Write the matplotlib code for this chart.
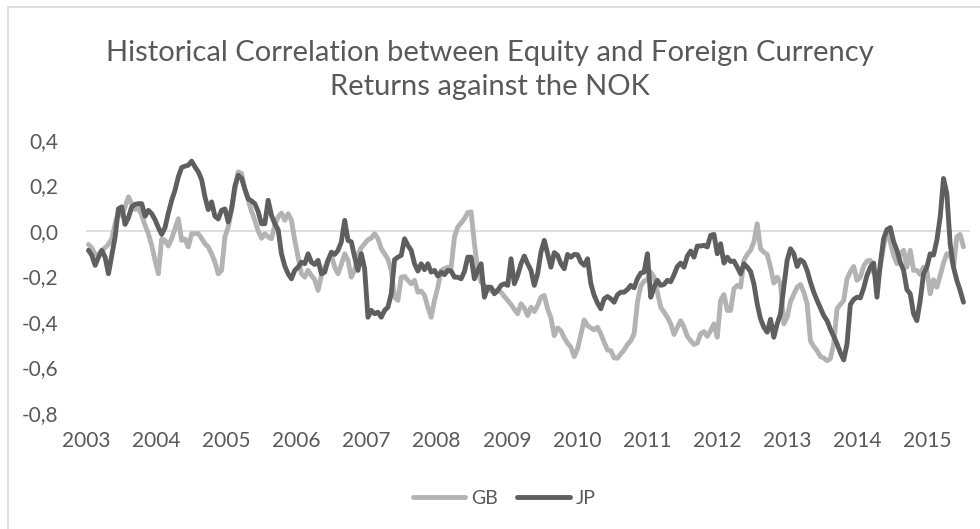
import numpy as np
import pandas as pd
import matplotlib
matplotlib.use("Agg")
import matplotlib.pyplot as plt
import matplotlib.dates as mdates
from matplotlib.patches import Rectangle
from matplotlib.ticker import FuncFormatter

# ---------------- data ----------------
title = "Historical Correlation between Equity and Foreign Currency\nReturns against the NOK"
series_names = ["GB", "JP"]
start_date = "2003-01-14"
end_date = "2015-07-08"

gb_values = [
    # 2003 - 2006
    -0.059, -0.075, -0.103, -0.103, -0.085, -0.073, -0.059, -0.034, 0.032, 0.084,
    0.068, 0.106, 0.150, 0.120, 0.095, 0.101, 0.069, 0.025, -0.012, -0.063,
    -0.129, -0.188, -0.035, -0.041, -0.066, -0.034, 0.010, 0.054, -0.041, -0.035,
    -0.070, -0.012, -0.012, -0.012, -0.032, -0.056, -0.070, -0.100, -0.137, -0.188,
    -0.173, -0.026, 0.018, 0.091, 0.179, 0.260, 0.253, 0.184, 0.135, 0.087,
    0.047, 0.000, -0.032, -0.012, -0.026, -0.034, 0.025, 0.062, 0.079, 0.047,
    0.076, 0.047, -0.041, -0.115,
    # 2006 - 2009
    -0.188, -0.203, -0.173, -0.195, -0.214, -0.261, -0.195, -0.159, -0.129, -0.107,
    -0.159, -0.188, -0.147, -0.100, -0.129, -0.203, -0.173, -0.103, -0.073, -0.056,
    -0.038, -0.031, -0.012, -0.034, -0.078, -0.100, -0.123, -0.173, -0.291, -0.305,
    -0.203, -0.200, -0.217, -0.232, -0.217, -0.269, -0.264, -0.283, -0.335, -0.379,
    -0.305, -0.247, -0.173, -0.166, -0.159, -0.159, -0.026, 0.018, 0.035, 0.054,
    0.081, 0.084, -0.056, -0.173, -0.225, -0.239, -0.254, -0.264, -0.264, -0.261,
    -0.269, -0.288, -0.305, -0.323, -0.344, -0.364,
    # 2009 - 2012
    -0.320, -0.339, -0.372, -0.335, -0.354, -0.327, -0.291, -0.283, -0.342, -0.382,
    -0.460, -0.426, -0.438, -0.470, -0.493, -0.511, -0.552, -0.518, -0.455, -0.391,
    -0.416, -0.426, -0.435, -0.423, -0.452, -0.489, -0.523, -0.526, -0.558, -0.559,
    -0.540, -0.523, -0.499, -0.482, -0.452, -0.313, -0.242, -0.220, -0.214, -0.181,
    -0.203, -0.269, -0.335, -0.357, -0.379, -0.408, -0.455, -0.423, -0.394, -0.423,
    -0.463, -0.482, -0.499, -0.492, -0.452, -0.442, -0.463, -0.438, -0.408, -0.467,
    -0.305, -0.279, -0.349, -0.349, -0.254, -0.239,
    # 2012 - 2015
    -0.247, -0.129, -0.103, -0.085, -0.048, 0.032, -0.078, -0.093, -0.103, -0.159,
    -0.229, -0.203, -0.232, -0.408, -0.379, -0.311, -0.278, -0.247, -0.235, -0.269,
    -0.320, -0.482, -0.508, -0.526, -0.552, -0.558, -0.570, -0.561, -0.496, -0.342,
    -0.323, -0.305, -0.210, -0.179, -0.156, -0.217, -0.203, -0.154, -0.132, -0.129,
    -0.184, -0.203, -0.159, -0.068, 0.003, -0.048, -0.107, -0.144, -0.100, -0.085,
    -0.159, -0.085, -0.173, -0.173, -0.191, -0.159, -0.173, -0.276, -0.214, -0.247,
    -0.195, -0.141, -0.100, -0.103, -0.159, -0.026, -0.015, -0.070,
]

jp_values = [
    # 2003 - 2006
    -0.085, -0.107, -0.151, -0.115, -0.085, -0.115, -0.188, -0.107, -0.026, 0.098,
    0.106, 0.029, 0.059, 0.106, 0.117, 0.120, 0.120, 0.065, 0.091, 0.076,
    0.050, 0.015, -0.015, 0.015, 0.079, 0.135, 0.179, 0.238, 0.279, 0.285,
    0.289, 0.307, 0.282, 0.260, 0.226, 0.150, 0.094, 0.128, 0.065, 0.053,
    0.091, 0.097, 0.040, 0.098, 0.197, 0.245, 0.232, 0.184, 0.142, 0.132,
    0.120, 0.085, 0.032, 0.032, 0.135, 0.069, 0.032, 0.006, -0.100, -0.154,
    -0.188, -0.210, -0.173, -0.159,
    # 2006 - 2009
    -0.137, -0.144, -0.100, -0.137, -0.147, -0.129, -0.188, -0.181, -0.129, -0.093,
    -0.103, -0.085, -0.048, 0.047, -0.041, -0.048, -0.115, -0.173, -0.100, -0.166,
    -0.379, -0.349, -0.364, -0.357, -0.379, -0.349, -0.335, -0.276, -0.126, -0.115,
    -0.107, -0.034, -0.063, -0.085, -0.144, -0.176, -0.144, -0.170, -0.144, -0.181,
    -0.173, -0.198, -0.181, -0.192, -0.173, -0.176, -0.203, -0.203, -0.210, -0.178,
    -0.115, -0.115, -0.210, -0.173, -0.144, -0.291, -0.247, -0.247, -0.276, -0.261,
    -0.239, -0.232, -0.239, -0.122, -0.232, -0.195,
    # 2009 - 2012
    -0.144, -0.110, -0.144, -0.173, -0.239, -0.188, -0.093, -0.041, -0.100, -0.159,
    -0.095, -0.107, -0.144, -0.166, -0.103, -0.115, -0.103, -0.104, -0.137, -0.151,
    -0.122, -0.232, -0.283, -0.317, -0.342, -0.298, -0.288, -0.298, -0.313, -0.280,
    -0.269, -0.269, -0.257, -0.239, -0.250, -0.210, -0.185, -0.181, -0.100, -0.291,
    -0.247, -0.217, -0.239, -0.235, -0.217, -0.223, -0.192, -0.156, -0.141, -0.159,
    -0.110, -0.088, -0.115, -0.066, -0.066, -0.063, -0.070, -0.019, -0.015, -0.100,
    -0.056, -0.141, -0.115, -0.134, -0.132, -0.159,
    # 2012 - 2015
    -0.188, -0.144, -0.159, -0.178, -0.232, -0.320, -0.386, -0.423, -0.445, -0.388,
    -0.467, -0.408, -0.364, -0.247, -0.129, -0.078, -0.100, -0.156, -0.126, -0.137,
    -0.173, -0.225, -0.269, -0.305, -0.338, -0.372, -0.394, -0.432, -0.463, -0.496,
    -0.535, -0.567, -0.496, -0.323, -0.301, -0.291, -0.294, -0.251, -0.195, -0.159,
    -0.141, -0.291, -0.144, -0.034, 0.006, 0.015, -0.047, -0.085, -0.137, -0.173,
    -0.258, -0.276, -0.364, -0.394, -0.305, -0.188, -0.159, -0.100, -0.106, -0.041,
    0.062, 0.231, 0.164, -0.056, -0.159, -0.217, -0.261, -0.313,
]

year_ticks = list(range(2003, 2016))
y_ticks = [-0.8, -0.6, -0.4, -0.2, 0.0, 0.2, 0.4]

dates = pd.date_range(start_date, end_date, periods=len(gb_values))

# ---------------- figure ----------------
W, H = 980, 529
fig = plt.figure(figsize=(W / 100, H / 100), dpi=100)
fig.patch.set_facecolor("white")

text_color = "#595959"
font = ["Lato", "DejaVu Sans"]

# chart border (only top/left visible)
fig.add_artist(Rectangle((8 / W, -0.05), 1.2, 1.05 - 7 / H, transform=fig.transFigure,
                         fill=False, edgecolor="#d9d9d9", linewidth=1.2))

left, right, top, bottom = 86, 970, 140, 413
ax = fig.add_axes([left / W, 1 - bottom / H, (right - left) / W, (bottom - top) / H])

ax.plot(dates, gb_values, color="#b3b3b3", linewidth=3.5, label=series_names[0],
        solid_joinstyle="round", solid_capstyle="round", zorder=3)
ax.plot(dates, jp_values, color="#5f5f5f", linewidth=3.5, label=series_names[1],
        solid_joinstyle="round", solid_capstyle="round", zorder=4)

ax.set_ylim(-0.8, 0.4)
ax.set_yticks(y_ticks)
ax.yaxis.set_major_formatter(FuncFormatter(lambda v, p: f"{v:.1f}".replace(".", ",").replace("-0,0", "0,0")))
ax.set_xlim(pd.Timestamp("2003-01-01"), pd.Timestamp("2015-08-11"))
ax.set_xticks([pd.Timestamp(f"{y}-01-01") for y in year_ticks])
ax.xaxis.set_major_formatter(mdates.DateFormatter("%Y"))

for s in ax.spines.values():
    s.set_visible(False)
ax.axhline(0, color="#d9d9d9", linewidth=1.2, zorder=1)
ax.tick_params(axis="both", length=0, labelsize=15, labelcolor=text_color)
ax.tick_params(axis="y", pad=20)
ax.tick_params(axis="x", pad=13)
for lab in ax.get_xticklabels() + ax.get_yticklabels():
    lab.set_family(font)

fig.text(0.5, 1 - 70 / H, title, ha="center", va="center", fontsize=21,
         color=text_color, family=font, linespacing=1.42)

leg = fig.legend(loc="center", bbox_to_anchor=(504 / W, 1 - 498 / H), ncol=2, frameon=False,
                 prop={"family": font, "size": 14}, labelcolor=text_color,
                 handlelength=2.7, columnspacing=1.0, handletextpad=0.3)

fig.savefig("out.png", dpi=100, facecolor="white")
